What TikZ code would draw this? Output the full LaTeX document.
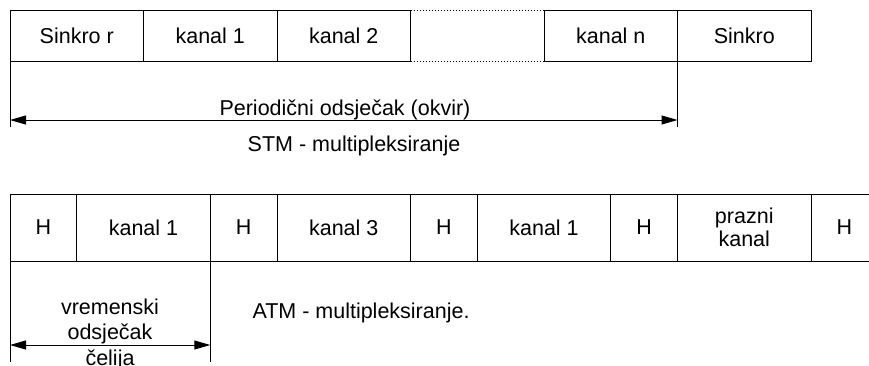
\documentclass[tikz,border=0pt]{standalone}
\usepackage{fontspec}
\setmainfont{Liberation Sans}
\usetikzlibrary{arrows.meta}
\begin{document}
\begin{tikzpicture}[x=1pt,y=1pt,
  line width=1pt,
  txt/.style={font=\fontsize{21.5}{25.5}\selectfont, inner sep=0pt, outer sep=0pt},
  cell/.style={draw, txt, minimum height=#1, anchor=center},
  cell/.default=51pt,
  wide/.style={minimum width=133.5pt},
  narrow/.style={minimum width=66.75pt},
  dim/.style={{Triangle[length=16pt,width=9pt]}-{Triangle[length=16pt,width=9pt]}}
]
\useasboundingbox (0,0) rectangle (869,-365);
% STM row
\node[cell, wide] (s1) at (76.75,-35.5) {Sinkro r};
\node[cell, wide] (s2) at (210.25,-35.5) {kanal 1};
\node[cell, wide] (s3) at (343.75,-35.5) {kanal 2};
\node[txt, wide, minimum height=51pt] (s4) at (477.25,-35.5) {};
\node[cell, wide] (s5) at (610.75,-35.5) {kanal n};
\node[cell, wide] (s6) at (744.25,-35.5) {Sinkro};
\draw[dotted] (s4.north west) -- (s4.north east);
\draw[dotted] (s4.south west) -- (s4.south east);
% period dimension
\coordinate (p1) at (10,-127);
\coordinate (p2) at (677.5,-127);
\coordinate (a1) at (10,-120);
\coordinate (a2) at (677.5,-120);
\draw (s1.south west) -- (p1);
\draw (s5.south east) -- (p2);
\draw[dim] (a1) -- (a2);
\node[txt, anchor=base] (per) at (345,-115) {Periodični odsječak (okvir)};
\node[txt, anchor=base] (stm) at (354,-151.5) {STM - multipleksiranje};
% ATM row
\node[cell=67pt, narrow] (h1) at (43.375,-227.5) {H};
\node[cell=67pt, wide] (c1) at (143.5,-227.5) {kanal 1};
\node[cell=67pt, narrow] (h2) at (243.625,-227.5) {H};
\node[cell=67pt, wide] (c2) at (343.75,-227.5) {kanal 3};
\node[cell=67pt, narrow] (h3) at (443.875,-227.5) {H};
\node[cell=67pt, wide] (c3) at (544,-227.5) {kanal 1};
\node[cell=67pt, narrow] (h4) at (644.125,-227.5) {H};
\node[cell=67pt, wide, align=center, font=\fontsize{21.5}{23}\selectfont] (c4) at (744.25,-227.5) {prazni\\kanal};
\node[txt, narrow, minimum height=67pt] (h5) at (844.375,-227.5) {H};
\coordinate (e1) at (869,-194);
\coordinate (e2) at (869,-261);
\draw (h5.north west) -- (e1);
\draw (h5.south west) -- (e2);
% cell dimension
\coordinate (q1) at (10,-362);
\coordinate (q2) at (210.25,-362);
\coordinate (b1) at (10,-345);
\coordinate (b2) at (210.25,-345);
\draw (h1.south west) -- (q1);
\draw (c1.south east) -- (q2);
\draw[dim] (b1) -- (b2);
\node[txt, anchor=base, align=center] (vo) at (110,-365) {vremenski\\odsječak\\čelija};
\node[txt, anchor=base west] (atm) at (252.5,-318.5) {ATM - multipleksiranje.};
\end{tikzpicture}
\end{document}
